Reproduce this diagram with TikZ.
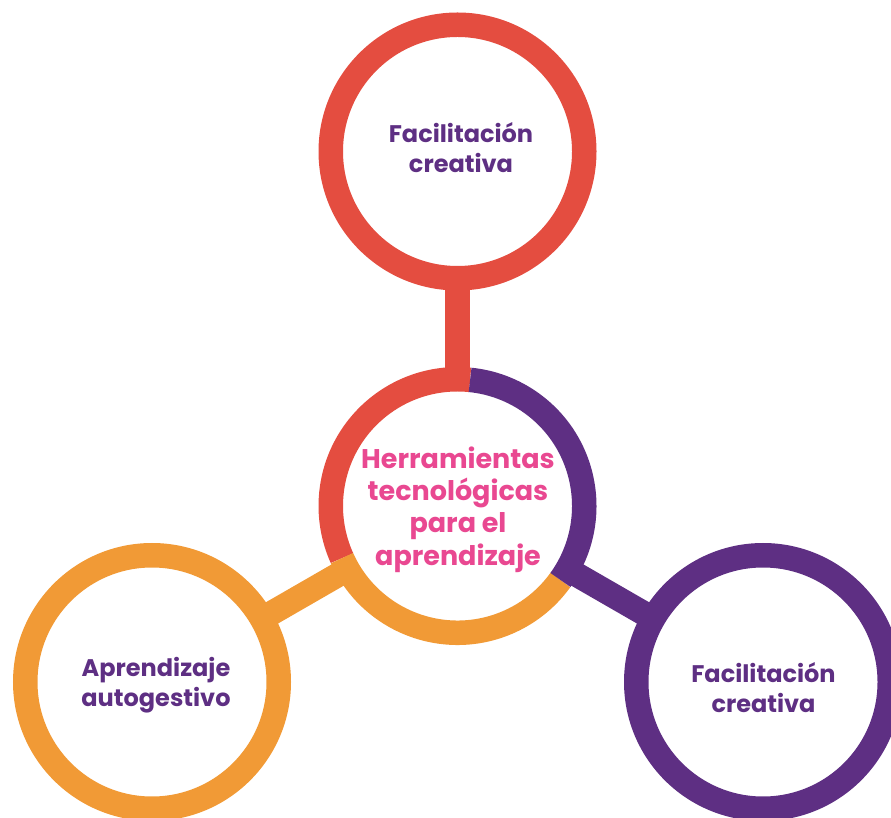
\documentclass[tikz,border=0pt]{standalone}
\usepackage{fontspec}
\setmainfont{Poppins}
\usetikzlibrary{backgrounds}
\definecolor{ringred}{RGB}{228,77,64}
\definecolor{ringpurple}{RGB}{94,47,131}
\definecolor{ringorange}{RGB}{241,154,54}
\definecolor{hubpink}{RGB}{233,72,145}

\begin{document}
\begin{tikzpicture}[x=1pt,y=1pt,
  ring/.style={circle, draw, fill=white, line width=24.5pt, minimum size=253.5pt, inner sep=0pt},
  hub/.style={circle, fill=white, minimum size=253.5pt, inner sep=0pt},
  lbl/.style={align=center, inner sep=0pt, font=\bfseries\fontsize{24}{30}\selectfont, text=ringpurple},
  hubtxt/.style={align=center, inner sep=0pt, font=\bfseries\fontsize{27}{32.3}\selectfont, text=hubpink},
  seg/.style={line width=24.5pt},
  bar/.style={line width=24.5pt}]
\useasboundingbox (0,0) rectangle (891,817);
\node[hub] (H) at (457.5,311) {};
\node[ring, draw=ringred] (FT) at (457.5,665.5) {};
\node[ring, draw=ringorange] (AA) at (152,135) {};
\node[ring, draw=ringpurple] (FC) at (763,135) {};
% spokes sit behind the white discs
\begin{scope}[on background layer]
\draw[bar, ringred] (H.center) -- (FT.center);
\draw[bar, ringorange] (H.center) -- (AA.center);
\draw[bar, ringpurple] (H.center) -- (FC.center);
\end{scope}
% three-colour ring of the hub
\foreach \a/\col in {84.3/ringred, 204.3/ringorange, 324.3/ringpurple}
  \draw[seg, \col] ([shift={(\a:126.75)}]H.center) arc[start angle=\a, delta angle=120, radius=126.75];
\node[hubtxt] (Ht) at (458,307.5) {Herramientas\\tecnológicas\\para el\\aprendizaje};
\node[lbl] (FTt) at (461,669) {Facilitación\\creativa};
\node[lbl] (AAt) at (156,132) {Aprendizaje\\autogestivo};
\node[lbl] (FCt) at (763.5,129.5) {Facilitación\\creativa};
\end{tikzpicture}
\end{document}
